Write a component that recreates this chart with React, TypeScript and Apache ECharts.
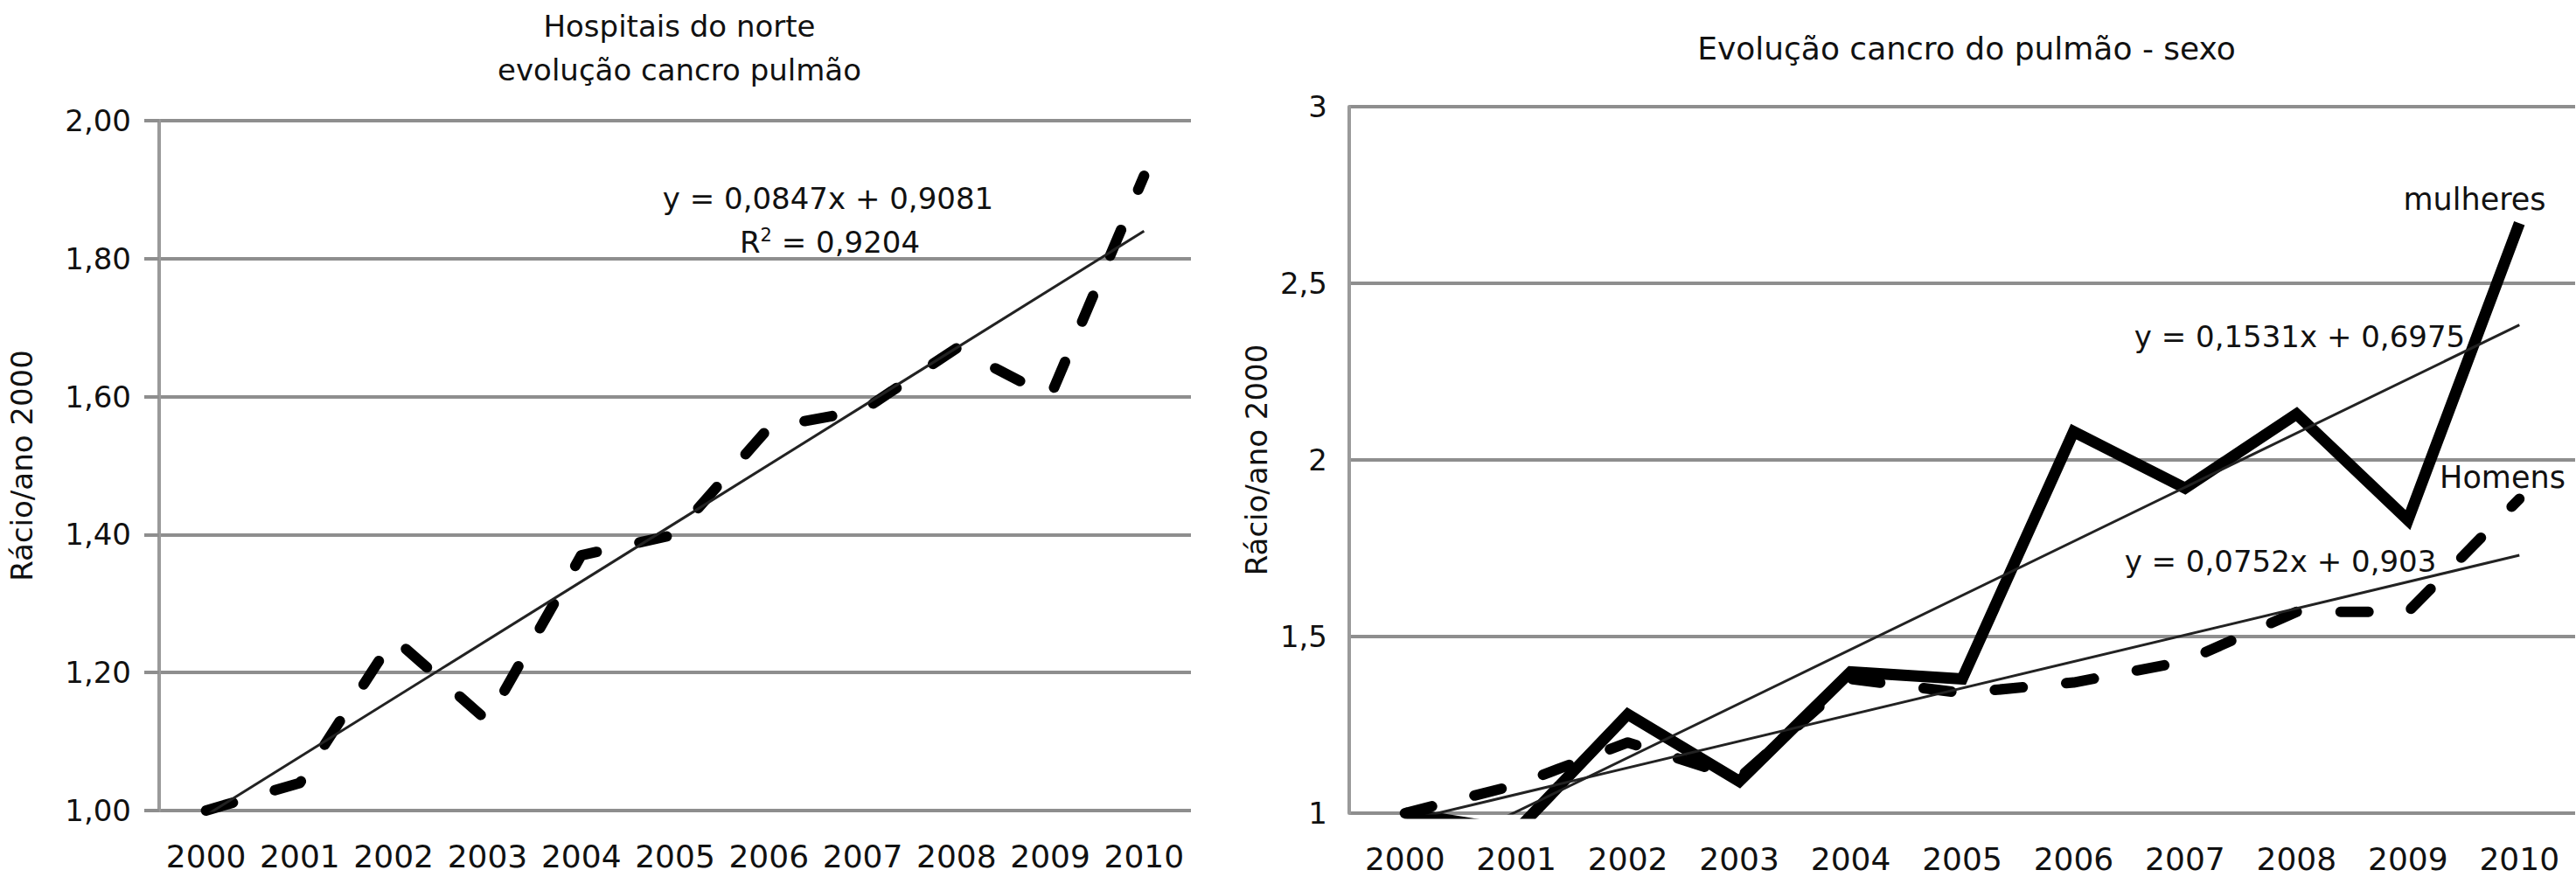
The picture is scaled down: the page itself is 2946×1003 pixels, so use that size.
import React, { useEffect, useRef } from 'react';
import * as echarts from 'echarts';

const FONT = "'DejaVu Sans', sans-serif";
const INK = '#111111';
const GRID_GRAY = '#8e8e8e';
const AXIS_GRAY = '#9a9a9a';

// ---- data ----
const years = ['2000', '2001', '2002', '2003', '2004', '2005', '2006', '2007', '2008', '2009', '2010'];

// left chart: Hospitais do norte
const hospitaisNorte = [1.0, 1.04, 1.25, 1.13, 1.37, 1.4, 1.555, 1.58, 1.67, 1.6, 1.92];
const hospitaisTrend = [0.993, 1.84]; // at 2000 and 2010

// right chart: by sex
const mulheres = [1.0, 0.95, 1.28, 1.09, 1.4, 1.38, 2.08, 1.92, 2.13, 1.83, 2.67];
const mulheresTrend = [0.851, 2.382];
const homens = [1.0, 1.08, 1.2, 1.1, 1.38, 1.34, 1.37, 1.43, 1.57, 1.57, 1.89];
const homensTrend = [0.978, 1.73];

const leftTitle = 'Hospitais do norte\nevolução cancro pulmão';
const rightTitle = 'Evolução cancro do pulmão - sexo';
const yName = 'Rácio/ano 2000';
const leftEquation = 'y = 0,0847x + 0,9081';
const leftR2 = ' = 0,9204';
const mulheresEquation = 'y = 0,1531x + 0,6975';
const homensEquation = 'y = 0,0752x + 0,903';

const DASH = [32, 50];

const trendData = (t: number[]) => [
  [years[0], t[0]],
  [years[years.length - 1], t[1]],
];

function textEl(x: number, y: number, text: string, size = 34) {
  return {
    type: 'text',
    x,
    y,
    z: 100,
    style: {
      text,
      fill: INK,
      fontSize: size,
      fontFamily: FONT,
      align: 'center',
      verticalAlign: 'middle',
    },
  };
}

function buildOption() {
  const xAxisBase = {
    type: 'category',
    data: years,
    boundaryGap: true,
    axisLine: { show: false },
    axisTick: { show: false },
    splitLine: { show: false },
    axisLabel: { color: INK, fontSize: 36, fontFamily: FONT, margin: 34, interval: 0 },
  };
  const nameStyle = { color: INK, fontSize: 34, fontFamily: FONT };
  return {
    animation: false,
    backgroundColor: '#ffffff',
    title: [
      {
        text: leftTitle,
        left: 772,
        top: 0,
        textAlign: 'center',
        textStyle: { color: INK, fontSize: 34, fontWeight: 'normal', fontFamily: FONT, lineHeight: 50 },
      },
      {
        text: rightTitle,
        left: 2244,
        top: 25,
        textAlign: 'center',
        textStyle: { color: INK, fontSize: 36, fontWeight: 'normal', fontFamily: FONT, lineHeight: 50 },
      },
    ],
    grid: [
      { left: 182, top: 138, width: 1180, height: 789 },
      { left: 1543, top: 122, width: 1402, height: 808 },
    ],
    xAxis: [
      { ...xAxisBase, gridIndex: 0 },
      { ...xAxisBase, gridIndex: 1 },
    ],
    yAxis: [
      {
        type: 'value',
        gridIndex: 0,
        min: 1,
        max: 2,
        interval: 0.2,
        name: yName,
        nameLocation: 'middle',
        nameGap: 140,
        nameRotate: 90,
        nameTextStyle: nameStyle,
        axisLine: { show: true, lineStyle: { color: AXIS_GRAY, width: 4 } },
        axisTick: { show: true, length: 17, lineStyle: { color: GRID_GRAY, width: 4 } },
        axisLabel: {
          color: INK,
          fontSize: 34,
          fontFamily: FONT,
          margin: 32,
          formatter: (v: number) => v.toFixed(2).replace('.', ','),
        },
        splitLine: { show: true, lineStyle: { color: GRID_GRAY, width: 4 } },
      },
      {
        type: 'value',
        gridIndex: 1,
        min: 1,
        max: 3,
        interval: 0.5,
        name: yName,
        nameLocation: 'middle',
        nameGap: 89,
        nameRotate: 90,
        nameTextStyle: nameStyle,
        axisLine: { show: true, lineStyle: { color: AXIS_GRAY, width: 4 } },
        axisTick: { show: false },
        axisLabel: {
          color: INK,
          fontSize: 34,
          fontFamily: FONT,
          margin: 25,
          formatter: (v: number) => String(Math.round(v * 10) / 10).replace('.', ','),
        },
        splitLine: { show: true, lineStyle: { color: GRID_GRAY, width: 4 } },
      },
    ],
    series: [
      {
        name: 'Hospitais do norte',
        type: 'line',
        xAxisIndex: 0,
        yAxisIndex: 0,
        data: hospitaisNorte,
        symbol: 'none',
        lineStyle: { color: '#000', width: 12, type: DASH, cap: 'round', join: 'round' },
        z: 3,
      },
      {
        name: 'Tendência hospitais',
        type: 'line',
        xAxisIndex: 0,
        yAxisIndex: 0,
        data: trendData(hospitaisTrend),
        symbol: 'none',
        lineStyle: { color: '#222', width: 3 },
        z: 4,
      },
      {
        name: 'mulheres',
        type: 'line',
        xAxisIndex: 1,
        yAxisIndex: 1,
        data: mulheres,
        symbol: 'none',
        lineStyle: { color: '#000', width: 13, join: 'miter' },
        z: 3,
      },
      {
        name: 'Homens',
        type: 'line',
        xAxisIndex: 1,
        yAxisIndex: 1,
        data: homens,
        symbol: 'none',
        lineStyle: { color: '#000', width: 12, type: DASH, cap: 'round', join: 'round' },
        z: 3,
      },
      {
        name: 'Tendência mulheres',
        type: 'line',
        xAxisIndex: 1,
        yAxisIndex: 1,
        data: trendData(mulheresTrend),
        symbol: 'none',
        lineStyle: { color: '#222', width: 3 },
        z: 4,
      },
      {
        name: 'Tendência homens',
        type: 'line',
        xAxisIndex: 1,
        yAxisIndex: 1,
        data: trendData(homensTrend),
        symbol: 'none',
        lineStyle: { color: '#222', width: 3 },
        z: 4,
      },
    ],
    graphic: [
      textEl(947, 227, leftEquation),
      {
        type: 'text',
        x: 949,
        y: 277,
        z: 100,
        style: {
          text: '{a|R}{s|2}{a|' + leftR2 + '}',
          align: 'center',
          verticalAlign: 'middle',
          rich: {
            a: { fill: INK, fontSize: 34, fontFamily: FONT, lineHeight: 38 },
            s: { fill: INK, fontSize: 21, fontFamily: FONT, lineHeight: 22, verticalAlign: 'top' },
          },
        },
      },
      textEl(2830, 228, 'mulheres', 35),
      textEl(2630, 385, mulheresEquation),
      textEl(2862, 546, 'Homens', 35),
      textEl(2608, 642, homensEquation),
    ],
  };
}

export default function App() {
  const ref = useRef<HTMLDivElement>(null);
  useEffect(() => {
    if (!ref.current) return;
    const chart = echarts.init(ref.current, null, { renderer: 'svg' });
    chart.setOption(buildOption() as any);
    return () => chart.dispose();
  }, []);
  return (
    <div
      ref={ref}
      style={{ position: 'absolute', left: 0, top: 0, width: 2946, height: 1003, background: '#fff' }}
    />
  );
}
